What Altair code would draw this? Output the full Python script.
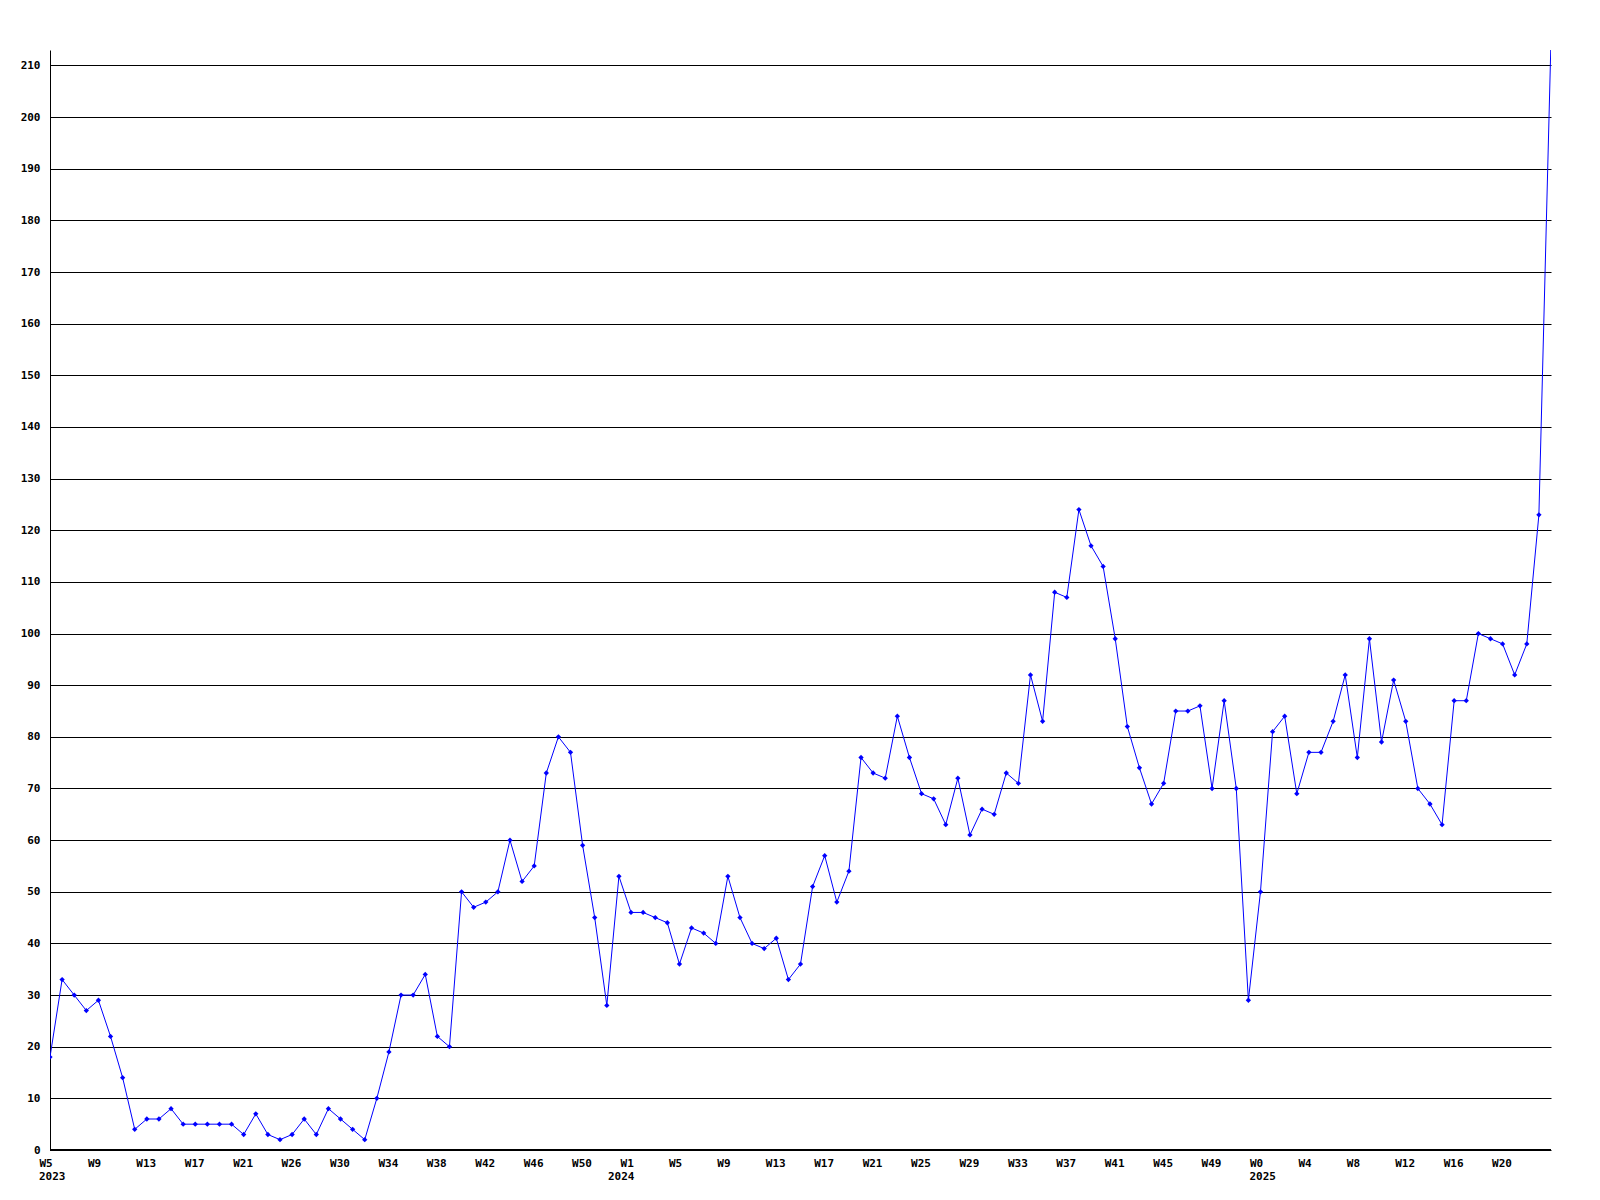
import altair as alt
import pandas as pd

values = [18, 33, 30, 27, 29, 22, 14, 4, 6, 6,
          8, 5, 5, 5, 5, 5, 3, 7, 3, 2,
          3, 6, 3, 8, 6, 4, 2, 10, 19, 30,
          30, 34, 22, 20, 50, 47, 48, 50, 60, 52,
          55, 73, 80, 77, 59, 45, 28, 53, 46, 46,
          45, 44, 36, 43, 42, 40, 53, 45, 40, 39,
          41, 33, 36, 51, 57, 48, 54, 76, 73, 72,
          84, 76, 69, 68, 63, 72, 61, 66, 65, 73,
          71, 92, 83, 108, 107, 124, 117, 113, 99, 82,
          74, 67, 71, 85, 85, 86, 70, 87, 70, 29,
          50, 81, 84, 69, 77, 77, 83, 92, 76, 99,
          79, 91, 83, 70, 67, 63, 87, 87, 100, 99,
          98, 92, 98, 123, 215]

week_labels = ["W5", "W9", "W13", "W17", "W21", "W26", "W30", "W34", "W38",
               "W42", "W46", "W50", "W1", "W5", "W9", "W13", "W17", "W21",
               "W25", "W29", "W33", "W37", "W41", "W45", "W49", "W0", "W4",
               "W8", "W12", "W16", "W20"]
label_step = 4

years = ["2023", "2024", "2025"]
year_index = [0, 47, 100]

df = pd.DataFrame({"idx": list(range(len(values))), "value": values})
ydf = pd.DataFrame({"idx": year_index, "year": years})

FONT = "DejaVu Sans Mono"
n_last = len(values) - 1

label_array = "[" + ",".join("'%s'" % s for s in week_labels) + "]"

xscale = alt.Scale(domain=[0, n_last], nice=False, zero=False)

x_enc = alt.X(
    "idx:Q",
    scale=xscale,
    axis=alt.Axis(
        values=list(range(0, label_step * len(week_labels), label_step)),
        labelExpr=label_array + "[round(datum.value / %d)]" % label_step,
        title=None,
        grid=False,
        ticks=False,
        domain=False,
        labelAlign="left",
        labelBaseline="top",
        labelPadding=7,
        labelOffset=-11,
        labelFont=FONT,
        labelFontWeight="bold",
        labelFontSize=11,
        labelColor="black",
        labelOverlap=False,
        labelBound=False,
        labelFlush=False,
    ),
)

y_enc = alt.Y(
    "value:Q",
    scale=alt.Scale(domain=[0, 213], nice=False, zero=True),
    axis=alt.Axis(
        values=list(range(0, 211, 10)),
        title=None,
        grid=True,
        gridColor="black",
        gridOpacity=1,
        gridWidth=1,
        ticks=False,
        domain=True,
        domainColor="black",
        domainWidth=1,
        labelPadding=10,
        labelFont=FONT,
        labelFontWeight="bold",
        labelFontSize=11,
        labelColor="black",
        labelOverlap=False,
    ),
)

line = alt.Chart(df).mark_line(color="#0000ff", strokeWidth=1, clip=True).encode(
    x=x_enc, y=y_enc
)
pts = alt.Chart(df).mark_point(
    shape="diamond", filled=True, color="#0000ff", size=28, opacity=1, clip=True
).encode(x=alt.X("idx:Q", scale=xscale), y=alt.Y("value:Q"))

bottom_rule = alt.Chart(df).mark_rule(color="black", strokeWidth=1).encode(
    x=alt.value(0), x2=alt.value(1501), y=alt.value(1100)
)

yr = alt.Chart(ydf).mark_text(
    align="left", baseline="top", dx=-11, font=FONT, fontWeight="bold",
    fontSize=11, color="black"
).encode(x=alt.X("idx:Q", scale=xscale), y=alt.value(1121), text="year:N")

chart = alt.layer(bottom_rule, line, pts, yr).properties(
    width=1501,
    height=1100,
    autosize=alt.AutoSizeParams(type="none"),
    padding={"left": 42, "top": 42, "right": 40, "bottom": 40},
    background="white",
).configure_view(stroke=None)

chart.save("out.html", embed_options={"renderer": "svg", "actions": False})
